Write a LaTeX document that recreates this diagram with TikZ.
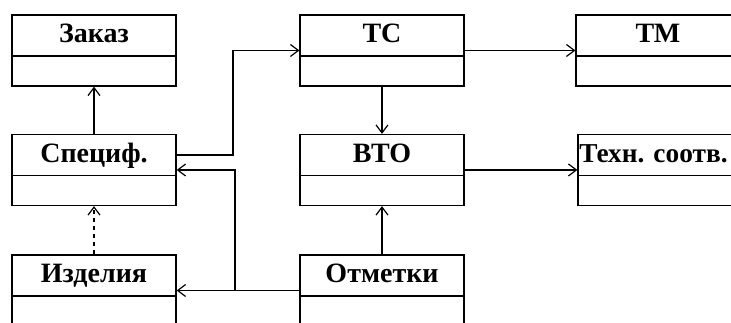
\documentclass[tikz,border=0pt]{standalone}
\usepackage{fontspec}
\setmainfont{Liberation Serif}
\usepackage{tikz}
\usetikzlibrary{arrows.meta,calc}

\tikzset{
  cls/.style={draw,line width=0.9pt,inner xsep=0pt,inner ysep=0pt,
    minimum width=123pt,text height=20.8pt,text depth=32.45pt,
    font=\fontsize{21}{21}\selectfont\bfseries,
    path picture={\draw[line width=0.9pt]
      ([yshift=-30.75pt]path picture bounding box.north west) --
      ([yshift=-30.75pt]path picture bounding box.north east);}},
  assoc/.style={line width=0.9pt,-{Straight Barb[length=6pt,width=9pt]}},
  depend/.style={assoc,dashed}
}

\begin{document}
\begin{tikzpicture}[x=0.75pt,y=0.75pt]
\useasboundingbox (0,0) rectangle (731,323);
% left column
\node[cls] (zakaz) at (94,272.5) {Заказ};
\node[cls] (specif) at (94,153) {Специф.};
\node[cls] (izdel) at (94,32.5) {Изделия};
% middle column
\node[cls] (tc) at (382,272.5) {ТС};
\node[cls] (vto) at (382,153) {ВТО};
\node[cls] (otmet) at (382,32.5) {Отметки};
% right column
\node[cls] (tm) at (658,272.5) {ТМ};
\node[cls,text width=121pt,align=left,font=\fontsize{20.5}{20.5}\selectfont\bfseries]
  (tekhn) at (660,153) {Техн.\ соотв.};
\coordinate (bus) at (233,153);
\coordinate (bus2) at (235,153);

\draw[assoc] (specif) -- (zakaz);
\draw[depend] (izdel) -- (specif);
\draw[assoc] ([yshift=11.25pt]specif.east) -| (tc.west -| bus) -- (tc.west);
\draw[assoc] (tc) -- (tm);
\draw[assoc] (tc) -- (vto);
\draw[assoc] (vto) -- (tekhn);
\draw[assoc] (otmet) -- (vto);
\draw[assoc] (otmet) -- (izdel);
\draw[assoc] (otmet.west -| bus2) |- (specif.east);
\end{tikzpicture}
\end{document}
